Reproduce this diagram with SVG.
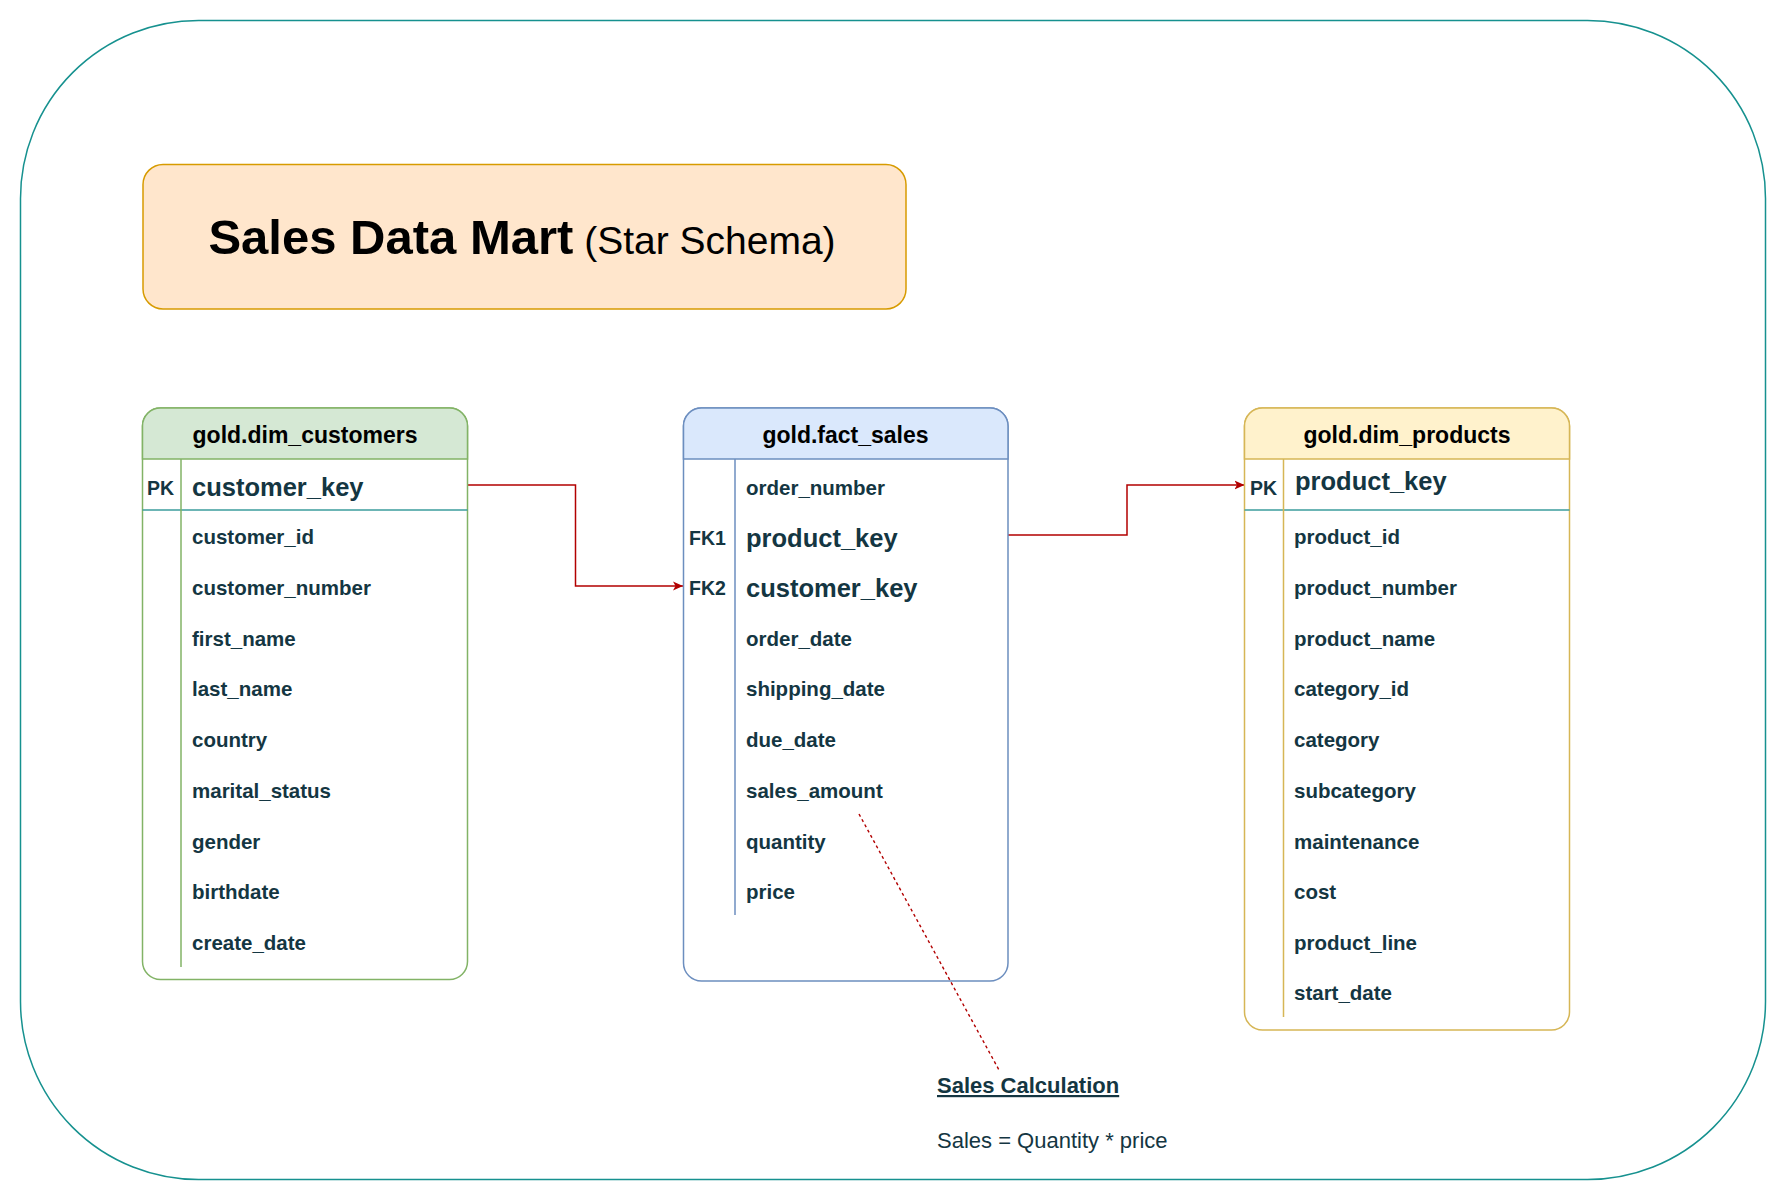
<svg xmlns="http://www.w3.org/2000/svg" width="1787" height="1202" viewBox="0 0 1787 1202">
  <defs>
    <marker id="arrow" viewBox="0 0 10 10" refX="10" refY="5" markerWidth="10" markerHeight="10" markerUnits="userSpaceOnUse" orient="auto">
      <path d="M0,0.5 L10,5 L0,9.5 L2.5,5 Z" fill="#b20000"/>
    </marker>
    <style>
      text { font-family: "Liberation Sans", Arial, Helvetica, sans-serif; }
      .hdr { font-size: 23px; font-weight: bold; fill: #000; text-anchor: middle; }
      .fld { font-size: 20.5px; font-weight: bold; fill: #143642; }
      .key { font-size: 25.5px; font-weight: bold; fill: #143642; }
      .tag { font-size: 19.5px; font-weight: bold; fill: #143642; }
      .link { fill: none; stroke: #b20000; stroke-width: 1.5; }
      .sep { stroke: #3b9c9c; stroke-width: 1.5; }
    </style>
  </defs>

  <rect width="1787" height="1202" fill="#ffffff"/>

  <!-- outer frame -->
  <rect id="frame" x="20.5" y="20.5" width="1745" height="1159" rx="178" ry="178" fill="none" stroke="#16918f" stroke-width="1.5"/>

  <!-- title -->
  <g id="title">
    <rect x="143" y="164.5" width="763" height="144.5" rx="20" ry="20" fill="#ffe6cc" stroke="#d79b00" stroke-width="1.5"/>
    <text x="522" y="254" text-anchor="middle"><tspan font-size="49" font-weight="bold" fill="#000">Sales Data Mart</tspan><tspan font-size="39" fill="#000"> (Star Schema)</tspan></text>
  </g>

  <!-- relationship connectors -->
  <g id="connectors">
    <path class="link" d="M467,485 H575.5 V586 H683" marker-end="url(#arrow)"/>
    <path class="link" d="M1008,535 H1127 V485 H1244.5" marker-end="url(#arrow)"/>
  </g>

  <!-- gold.dim_customers -->
  <g id="dim_customers">
    <rect x="142.5" y="408" width="325" height="571.5" rx="18" ry="18" fill="#ffffff" stroke="#82b366" stroke-width="1.5"/>
    <path d="M142.5,459 V426 A18,18 0 0 1 160.5,408 H449.5 A18,18 0 0 1 467.5,426 V459 Z" fill="#d5e8d4" stroke="#82b366" stroke-width="1.5"/>
    <text class="hdr" x="305" y="442.5">gold.dim_customers</text>
    <line class="sep" x1="142.5" y1="510" x2="467.5" y2="510"/>
    <line x1="181" y1="459" x2="181" y2="967" stroke="#82b366" stroke-width="1.5"/>
    <text class="tag" x="147" y="494.5">PK</text>
    <text class="key" x="192" y="495.5">customer_key</text>
    <text class="fld" x="192" y="544">customer_id</text>
    <text class="fld" x="192" y="594.75">customer_number</text>
    <text class="fld" x="192" y="645.5">first_name</text>
    <text class="fld" x="192" y="696.25">last_name</text>
    <text class="fld" x="192" y="747">country</text>
    <text class="fld" x="192" y="797.75">marital_status</text>
    <text class="fld" x="192" y="848.5">gender</text>
    <text class="fld" x="192" y="899.25">birthdate</text>
    <text class="fld" x="192" y="950">create_date</text>
  </g>

  <!-- gold.fact_sales -->
  <g id="fact_sales">
    <rect x="683.5" y="408" width="324.5" height="573" rx="18" ry="18" fill="#ffffff" stroke="#6c8ebf" stroke-width="1.5"/>
    <path d="M683.5,459 V426 A18,18 0 0 1 701.5,408 H990 A18,18 0 0 1 1008,426 V459 Z" fill="#dae8fc" stroke="#6c8ebf" stroke-width="1.5"/>
    <text class="hdr" x="845.5" y="442.5">gold.fact_sales</text>
    <line x1="735" y1="459" x2="735" y2="915" stroke="#6c8ebf" stroke-width="1.5"/>
    <text class="fld" x="746" y="494.5">order_number</text>
    <text class="tag" x="689" y="544.5">FK1</text>
    <text class="key" x="746" y="546.5">product_key</text>
    <text class="tag" x="689" y="595">FK2</text>
    <text class="key" x="746" y="597">customer_key</text>
    <text class="fld" x="746" y="645.5">order_date</text>
    <text class="fld" x="746" y="696.25">shipping_date</text>
    <text class="fld" x="746" y="747">due_date</text>
    <text class="fld" x="746" y="797.75">sales_amount</text>
    <text class="fld" x="746" y="848.5">quantity</text>
    <text class="fld" x="746" y="899.25">price</text>
  </g>

  <!-- gold.dim_products -->
  <g id="dim_products">
    <rect x="1244.5" y="408" width="325" height="622" rx="18" ry="18" fill="#ffffff" stroke="#d6b656" stroke-width="1.5"/>
    <path d="M1244.5,459 V426 A18,18 0 0 1 1262.5,408 H1551.5 A18,18 0 0 1 1569.5,426 V459 Z" fill="#fff2cc" stroke="#d6b656" stroke-width="1.5"/>
    <text class="hdr" x="1407" y="442.5">gold.dim_products</text>
    <line class="sep" x1="1244.5" y1="510" x2="1569.5" y2="510"/>
    <line x1="1283.5" y1="459" x2="1283.5" y2="1017" stroke="#d6b656" stroke-width="1.5"/>
    <text class="tag" x="1250" y="494.5">PK</text>
    <text class="key" x="1295" y="489.5">product_key</text>
    <text class="fld" x="1294" y="544">product_id</text>
    <text class="fld" x="1294" y="594.75">product_number</text>
    <text class="fld" x="1294" y="645.5">product_name</text>
    <text class="fld" x="1294" y="696.25">category_id</text>
    <text class="fld" x="1294" y="747">category</text>
    <text class="fld" x="1294" y="797.75">subcategory</text>
    <text class="fld" x="1294" y="848.5">maintenance</text>
    <text class="fld" x="1294" y="899.25">cost</text>
    <text class="fld" x="1294" y="950">product_line</text>
    <text class="fld" x="1294" y="999.5">start_date</text>
  </g>

  <!-- dotted annotation link, drawn over the fact table -->
  <g id="note_link">
    <line x1="859" y1="814" x2="999" y2="1070" stroke="#b20000" stroke-width="1.4" stroke-dasharray="3 3"/>
  </g>

  <!-- calculation note -->
  <g id="sales_note">
    <text x="937" y="1093" font-size="22" font-weight="bold" fill="#143642" text-decoration="underline">Sales Calculation</text>
    <text x="937" y="1148" font-size="22" fill="#143642">Sales = Quantity * price</text>
  </g>
</svg>
